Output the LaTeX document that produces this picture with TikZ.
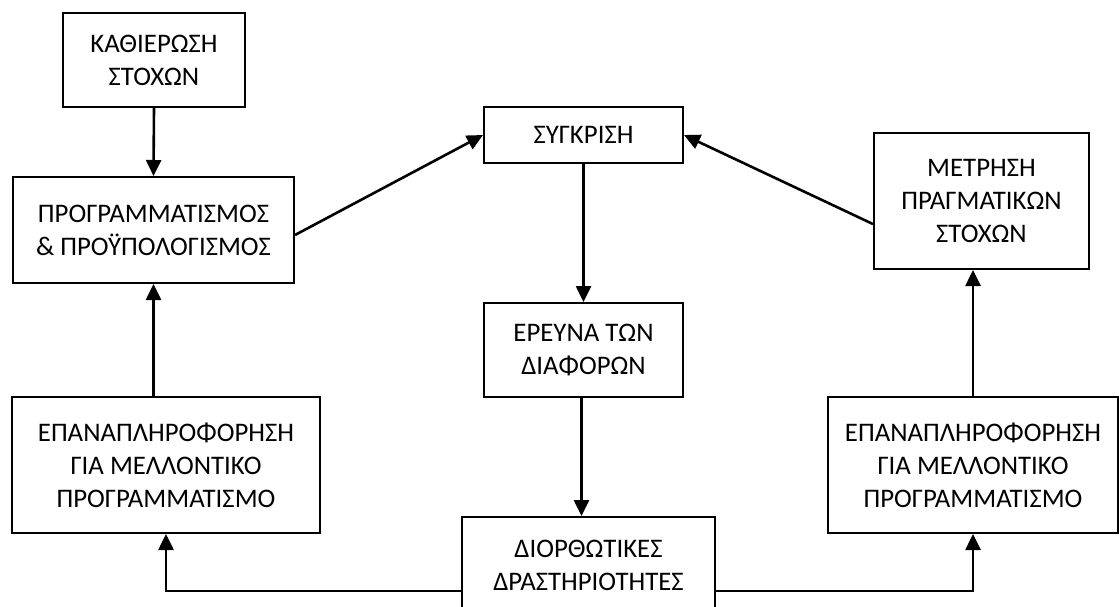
\documentclass[tikz,border=0pt]{standalone}
\usepackage{fontspec}
\setmainfont{Carlito}
\usetikzlibrary{arrows.meta}

\begin{document}
\begin{tikzpicture}[x=0.5pt, y=-0.5pt,
    box/.style={draw, line width=1pt, fill=white, align=center, inner sep=0pt,
                font=\fontsize{13.4}{16.6}\selectfont},
    arr/.style={line width=1.3pt, -{Triangle[length=8pt, width=7.5pt]}}]
    % page
    \useasboundingbox (0,0) rectangle (1119,606);
    \clip (0,0) rectangle (1119,606);
    \fill[white] (0,0) rectangle (1119,606);

    % left column
    \node[box, minimum width=91pt, minimum height=47pt] (kath) at (154,60) {ΚΑΘΙΕΡΩΣΗ\\ΣΤΟΧΩΝ};
    \node[box, minimum width=140.5pt, minimum height=53pt] (prog) at (153.5,230) {ΠΡΟΓΡΑΜΜΑΤΙΣΜΟΣ\\\& ΠΡΟΫΠΟΛΟΓΙΣΜΟΣ};
    \node[box, minimum width=154pt, minimum height=68pt] (epanL) at (166,465) {ΕΠΑΝΑΠΛΗΡΟΦΟΡΗΣΗ\\ΓΙΑ ΜΕΛΛΟΝΤΙΚΟ\\ΠΡΟΓΡΑΜΜΑΤΙΣΜΟ};

    % middle column
    \node[box, minimum width=99.5pt, minimum height=28pt] (synk) at (583.5,135) {ΣΥΓΚΡΙΣΗ};
    \node[box, minimum width=99.5pt, minimum height=47pt] (erev) at (583.5,350) {ΕΡΕΥΝΑ ΤΩΝ\\ΔΙΑΦΟΡΩΝ};
    \node[box, minimum width=126.5pt, minimum height=48pt] (dior) at (588.5,565) {ΔΙΟΡΘΩΤΙΚΕΣ\\ΔΡΑΣΤΗΡΙΟΤΗΤΕΣ};

    % right column
    \node[box, minimum width=107.5pt, minimum height=68pt] (metr) at (981.5,201) {ΜΕΤΡΗΣΗ\\ΠΡΑΓΜΑΤΙΚΩΝ\\ΣΤΟΧΩΝ};
    \node[box, minimum width=145pt, minimum height=68pt] (epanR) at (973,465) {ΕΠΑΝΑΠΛΗΡΟΦΟΡΗΣΗ\\ΓΙΑ ΜΕΛΛΟΝΤΙΚΟ\\ΠΡΟΓΡΑΜΜΑΤΙΣΜΟ};

    % arrows
    \draw[arr] (kath.south) -- (prog.north);
    \draw[arr] ([yshift=-2.5pt]prog.east) -- (synk.west);
    \draw[arr] (metr.192) -- (synk.east);
    \draw[arr] (synk.south) -- (erev.north);
    \draw[arr] ([xshift=-1pt]erev.south) -- ([xshift=-1pt]erev.south |- dior.north);
    \draw[arr] (prog.south |- epanL.north) -- (prog.south);
    \draw[arr] (epanR.north) -- (epanR.north |- metr.south);
    \draw[arr] ([yshift=-13pt]dior.west) -| (epanL.south);
    \draw[arr] ([yshift=-13pt]dior.east) -| (epanR.south);
\end{tikzpicture}
\end{document}
